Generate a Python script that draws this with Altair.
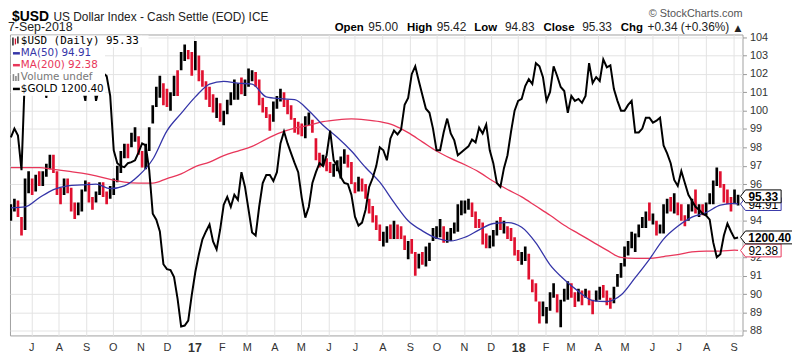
import altair as alt
import pandas as pd

# ---------------- data ----------------
# US Dollar index, one bar every 4 calendar days from 8-Jun-2016 to 6-Sep-2018
usd_high = [
    94.9, 95.2, 95.1, 94.2, 96.3, 96.7, 96.3, 96.5, 96.7, 96.7,
    97.1, 97.6, 97.6, 96.7, 95.8, 96.3, 96.3, 95.8, 95.0, 95.0,
    95.7, 96.2, 96.1, 95.3, 95.6, 96.1, 96.1, 95.6, 95.9, 96.3,
    97.0, 97.8, 98.2, 98.2, 98.8, 99.1, 98.6, 97.8, 98.2, 99.1,
    100.3, 101.3, 101.9, 101.5, 101.2, 101.0, 101.9, 102.2, 103.2, 103.6,
    103.3, 103.2, 103.8, 103.0, 102.2, 101.6, 101.3, 100.9, 100.7, 100.4,
    100.0, 100.6, 101.0, 101.7, 101.5, 101.8, 101.7, 102.3, 102.2, 102.1,
    101.7, 100.7, 100.2, 99.8, 100.5, 100.8, 101.2, 101.0, 100.6, 100.3,
    99.6, 99.4, 99.3, 99.7, 99.9, 99.5, 98.5, 97.7, 97.6, 97.4,
    97.2, 97.1, 97.3, 97.5, 97.9, 97.6, 97.2, 96.1, 96.4, 96.3,
    96.0, 95.2, 94.8, 94.3, 93.8, 93.4, 93.7, 93.8, 94.0, 93.8,
    93.7, 93.2, 92.9, 93.0, 92.3, 92.2, 92.3, 92.6, 92.8, 93.6,
    93.7, 94.1, 93.7, 93.4, 93.6, 93.9, 94.9, 95.1, 95.1, 95.2,
    95.0, 94.5, 94.1, 93.9, 93.3, 93.2, 93.5, 94.0, 94.2, 94.0,
    93.7, 93.6, 93.1, 92.4, 92.3, 92.6, 92.2, 90.8, 90.6, 89.6,
    89.6, 89.3, 90.1, 90.6, 90.0, 89.7, 90.3, 90.7, 90.6, 90.1,
    90.3, 90.2, 90.3, 90.2, 89.7, 90.2, 90.4, 90.5, 90.2, 89.8,
    90.4, 91.1, 91.7, 92.6, 92.9, 93.4, 93.3, 93.8, 94.2, 94.5,
    95.0, 94.4, 94.0, 93.8, 94.9, 95.2, 95.3, 95.5, 95.0, 94.9,
    94.3, 94.9, 95.2, 95.7, 94.9, 94.9, 95.0, 95.5, 96.2, 96.9,
    96.7, 96.0, 95.7, 95.3, 95.7, 95.42,
]
usd_low = [
    94.0, 94.5, 94.2, 93.2, 93.5, 95.5, 95.4, 95.6, 95.9, 95.9,
    96.4, 96.8, 96.6, 95.4, 94.9, 95.4, 95.5, 94.5, 94.1, 94.3,
    94.5, 95.6, 95.0, 94.6, 95.0, 95.4, 95.3, 94.9, 95.2, 95.4,
    96.1, 96.6, 97.4, 97.4, 98.0, 98.3, 97.6, 96.9, 96.8, 97.8,
    99.3, 100.2, 100.7, 100.3, 100.2, 100.0, 100.8, 100.8, 102.2, 102.7,
    102.8, 101.9, 102.2, 101.6, 101.3, 100.6, 100.2, 99.9, 99.6, 99.4,
    99.2, 99.8, 100.3, 100.6, 100.6, 100.9, 100.8, 101.3, 101.6, 101.3,
    100.3, 99.9, 99.6, 98.9, 99.4, 100.1, 100.5, 100.2, 99.8, 99.5,
    98.8, 98.7, 98.6, 98.5, 99.2, 98.8, 97.3, 96.9, 97.0, 96.7,
    96.6, 96.4, 96.7, 96.3, 97.1, 96.9, 96.0, 95.5, 95.6, 95.6,
    95.2, 94.4, 93.9, 93.5, 92.9, 92.6, 92.8, 93.0, 93.0, 93.0,
    93.0, 92.4, 91.9, 92.2, 91.0, 91.4, 91.6, 91.5, 91.8, 92.9,
    93.0, 93.1, 92.8, 92.8, 92.9, 93.3, 93.4, 94.3, 94.4, 94.6,
    94.2, 93.6, 93.6, 92.7, 92.5, 92.5, 92.6, 93.2, 93.5, 93.3,
    93.0, 92.9, 92.1, 91.8, 91.6, 91.8, 90.8, 90.1, 89.6, 88.4,
    88.8, 88.4, 89.1, 89.8, 89.0, 88.2, 89.6, 89.7, 89.8, 89.3,
    89.6, 89.4, 89.8, 89.4, 88.9, 89.6, 89.7, 89.8, 89.4, 89.2,
    89.5, 90.4, 90.9, 91.5, 92.1, 92.5, 92.3, 93.1, 93.6, 93.6,
    94.0, 93.8, 93.2, 93.3, 93.3, 94.4, 94.5, 94.4, 94.3, 94.0,
    93.7, 94.0, 94.5, 94.4, 94.2, 94.3, 94.3, 94.9, 94.9, 95.9,
    95.8, 95.0, 94.9, 94.5, 94.9, 94.83,
]
usd_close = [
    94.6, 95.0, 94.3, 93.6, 95.5, 96.1, 95.6, 96.3, 96.1, 96.6,
    97.0, 97.5, 96.7, 95.6, 95.5, 96.2, 95.7, 94.8, 94.5, 94.6,
    95.5, 95.9, 95.2, 95.0, 95.4, 96.0, 95.5, 95.3, 95.5, 96.2,
    96.6, 97.6, 98.0, 97.9, 98.6, 98.6, 98.0, 97.1, 97.9, 99.0,
    100.0, 101.2, 101.5, 100.9, 100.4, 100.6, 101.8, 101.2, 102.9, 103.2,
    103.0, 102.2, 103.3, 102.2, 101.6, 101.0, 100.8, 100.3, 100.5, 99.5,
    99.8, 100.3, 100.8, 101.0, 101.3, 101.1, 101.6, 101.6, 102.0, 101.3,
    100.5, 100.2, 99.8, 99.3, 100.4, 100.6, 101.0, 100.5, 99.9, 99.8,
    99.1, 99.0, 98.8, 99.4, 99.6, 98.9, 97.6, 97.1, 97.4, 96.9,
    96.7, 96.7, 96.9, 97.3, 97.7, 97.2, 96.2, 95.6, 96.2, 95.8,
    95.3, 94.6, 94.0, 93.8, 93.0, 93.0, 93.4, 93.1, 93.5, 93.3,
    93.2, 92.7, 92.7, 92.4, 91.3, 92.0, 91.8, 92.2, 92.6, 93.2,
    93.4, 93.8, 93.0, 93.1, 93.5, 93.7, 94.6, 94.6, 94.8, 94.9,
    94.4, 93.8, 93.6, 93.2, 92.9, 93.0, 93.3, 93.9, 93.6, 93.9,
    93.3, 93.2, 92.3, 91.9, 92.0, 92.3, 90.9, 90.4, 89.9, 89.1,
    89.2, 89.2, 89.6, 90.3, 89.1, 89.6, 89.9, 90.6, 89.9, 89.5,
    90.1, 89.6, 90.1, 89.8, 89.4, 90.0, 90.2, 90.1, 89.6, 89.5,
    90.3, 91.0, 91.5, 92.4, 92.6, 92.7, 93.2, 93.6, 93.9, 94.3,
    94.1, 94.2, 93.3, 93.6, 94.8, 94.8, 94.6, 95.0, 94.5, 94.1,
    93.9, 94.8, 95.1, 94.5, 94.7, 94.6, 95.0, 95.2, 96.1, 96.7,
    96.0, 95.2, 95.1, 94.7, 95.2, 95.33,
]
# $GOLD overlay, same dates
gold_close = [
    1282.5, 1289.8, 1284.1, 1255.7, 1337.0, 1354.9, 1358.1, 1354.9, 1346.7, 1332.9,
    1315.0, 1341.0, 1349.2, 1357.3, 1359.8, 1353.3, 1353.3, 1349.2, 1345.1, 1337.0,
    1327.2, 1312.6, 1343.5, 1338.6, 1312.6, 1324.8, 1335.4, 1332.9, 1316.7, 1272.0,
    1261.4, 1259.0, 1258.1, 1261.4, 1262.2, 1263.8, 1270.3, 1277.6, 1276.0, 1255.7,
    1219.9, 1215.0, 1205.3, 1178.4, 1174.4, 1173.6, 1167.9, 1150.0, 1127.2, 1128.0,
    1132.1, 1153.2, 1172.0, 1186.6, 1198.8, 1205.3, 1211.0, 1197.1, 1190.6, 1206.9,
    1227.2, 1233.7, 1225.6, 1235.4, 1231.3, 1254.0, 1241.9, 1223.2, 1204.5, 1202.0,
    1225.6, 1245.1, 1251.6, 1251.6, 1246.7, 1254.0, 1277.6, 1287.4, 1277.6, 1269.5,
    1261.4, 1254.0, 1232.9, 1216.7, 1225.6, 1245.1, 1254.0, 1261.4, 1259.0, 1267.9,
    1288.2, 1263.8, 1259.0, 1250.0, 1245.1, 1244.3, 1235.4, 1217.5, 1210.2, 1212.6,
    1223.2, 1241.9, 1249.2, 1259.0, 1274.4, 1272.0, 1263.8, 1281.7, 1288.2, 1285.0,
    1289.0, 1309.3, 1315.0, 1334.5, 1341.0, 1328.9, 1317.5, 1306.1, 1302.8, 1289.8,
    1272.0, 1272.0, 1286.6, 1298.0, 1285.8, 1280.1, 1267.9, 1270.3, 1272.8, 1275.2,
    1280.9, 1278.5, 1290.6, 1285.8, 1293.1, 1272.0, 1261.4, 1245.1, 1241.9, 1257.3,
    1267.9, 1287.4, 1304.5, 1312.6, 1314.2, 1324.8, 1330.5, 1326.4, 1343.5, 1341.0,
    1332.1, 1312.6, 1319.9, 1341.0, 1333.0, 1324.0, 1320.7, 1302.8, 1316.7, 1312.6,
    1314.2, 1311.0, 1316.7, 1343.5, 1327.2, 1332.1, 1328.9, 1346.7, 1340.2, 1341.8,
    1322.3, 1312.6, 1304.5, 1304.5, 1309.3, 1312.6, 1286.6, 1286.6, 1289.8, 1298.8,
    1298.8, 1294.7, 1296.3, 1298.8, 1276.0, 1269.5, 1261.4, 1247.6, 1242.7, 1254.9,
    1245.1, 1235.4, 1230.5, 1225.6, 1223.2, 1219.9, 1218.3, 1215.0, 1196.3, 1184.1,
    1186.6, 1202.0, 1211.8, 1205.3, 1199.6, 1200.4,
]
# moving averages, every 16 days plus the last day
ma50_values = [
    94.7, 94.75, 95.25, 95.7, 95.9, 95.95, 96.0, 95.75, 95.9, 96.45,
    97.35, 98.9, 99.85, 100.75, 101.45, 101.6, 101.5, 101.45, 100.75, 100.65,
    100.6, 100.0, 99.2, 98.55, 97.8, 96.9, 96.1, 95.0, 94.0, 93.45,
    93.05, 92.9, 93.1, 93.5, 93.85, 93.9, 93.65, 92.8, 91.6, 90.8,
    90.15, 89.65, 89.6, 89.95, 90.9, 91.9, 93.0, 93.7, 94.2, 94.45,
    94.85, 94.95, 94.91,
]
ma200_values = [
    96.9, 96.9, 96.9, 96.8, 96.7, 96.6, 96.45, 96.25, 96.1, 96.05,
    96.05, 96.3, 96.55, 96.95, 97.2, 97.55, 97.8, 98.05, 98.45, 98.8,
    99.05, 99.2, 99.4, 99.5, 99.55, 99.5, 99.4, 99.2, 98.8, 98.3,
    97.8, 97.4, 97.05, 96.65, 96.15, 95.7, 95.3, 94.8, 94.3, 93.75,
    93.3, 92.85, 92.4, 92.0, 91.95, 91.95, 92.05, 92.15, 92.3, 92.35,
    92.35, 92.4, 92.38,
]
y_ticks = list(range(88, 105))
header_values = {"Open": "95.00", "High": "95.42", "Low": "94.83", "Close": "95.33"}
change_text = "+0.34 (+0.36%)"

bar_dates = pd.date_range("2016-06-08", periods=len(usd_close), freq="4D")
ma_dates = list(bar_dates[::4]) + [bar_dates[-1]]
direction = ["up"] + ["up" if usd_close[i] >= usd_close[i - 1] else "down"
                      for i in range(1, len(usd_close))]

bars_df = pd.DataFrame({"date": bar_dates, "high": usd_high, "low": usd_low,
                        "close": usd_close, "dir": direction})
gold_df = pd.DataFrame({"date": bar_dates, "gold": gold_close})
ma_df = pd.DataFrame({"date": ma_dates, "ma50": ma50_values, "ma200": ma200_values})
ONE = pd.DataFrame({"k": [0]})

# ---------------- styling ----------------
W, H = 740, 304
BLACK = "#000000"
RED_BAR = "#e0102f"
BLUE = "#3535a8"
RED_MA = "#e8365a"
GRID = "#e3e3e3"
TXT = "#333333"
FONT = "Liberation Sans"
LFONT = "DejaVu Sans"

yscale = alt.Scale(domain=[87.75, 104.15], nice=False, zero=False)
gscale = alt.Scale(domain=[1119.9, 1367.1], nice=False, zero=False)
xscale = alt.Scale(domain=[alt.DateTime(year=2016, month=6, date=7),
                           alt.DateTime(year=2018, month=9, date=11)], nice=False)

xaxis = alt.Axis(
    title=None, tickCount={"interval": "month", "step": 1},
    labelExpr="month(datum.value) == 0 ? timeFormat(datum.value, '%y') : substring(timeFormat(datum.value, '%b'), 0, 1)",
    labelFontWeight={"condition": {"test": "month(datum.value) == 0", "value": "bold"}, "value": "normal"},
    labelFontSize={"condition": {"test": "month(datum.value) == 0", "value": 12.5}, "value": 11},
    grid=True, gridColor=GRID, ticks=False, tickSize=0, domain=False,
    labelPadding=6, labelColor=TXT, labelFont=FONT, labelOverlap=False, labelFlush=False,
)
yaxis = alt.Axis(
    title=None, orient="right", values=y_ticks, grid=True, gridColor=GRID,
    tickColor="#999999", tickSize=4, domain=False, labelFont=FONT, labelFontSize=11,
    labelColor=TXT, labelPadding=3,
)

X = alt.X("date:T", scale=xscale, axis=xaxis)

bars = alt.Chart(bars_df).mark_rule(strokeWidth=2.7, clip=True).encode(
    x=X,
    y=alt.Y("low:Q", scale=yscale, axis=yaxis),
    y2="high:Q",
    color=alt.Color("dir:N", scale=alt.Scale(domain=["up", "down"], range=[BLACK, RED_BAR]), legend=None),
)
ma200 = alt.Chart(ma_df).mark_line(color=RED_MA, strokeWidth=1.3, interpolate="monotone", clip=True).encode(
    x=X, y=alt.Y("ma200:Q", scale=yscale, axis=None))
ma50 = alt.Chart(ma_df).mark_line(color=BLUE, strokeWidth=1.3, interpolate="monotone", clip=True).encode(
    x=X, y=alt.Y("ma50:Q", scale=yscale, axis=None))
gold = alt.Chart(gold_df).mark_line(color=BLACK, strokeWidth=2, clip=True).encode(
    x=X, y=alt.Y("gold:Q", scale=gscale, axis=None))


def note(text, x, y, size=12, weight="normal", color=TXT, font=FONT, align="left", baseline="alphabetic"):
    return alt.Chart(ONE).mark_text(text=text, align=align, baseline=baseline, font=font,
                                    fontSize=size, fontWeight=weight, color=color).encode(
        x=alt.value(x), y=alt.value(y))


def seg(x1, x2, y1, y2, color, w=1.5):
    return alt.Chart(ONE).mark_rule(color=color, strokeWidth=w).encode(
        x=alt.value(x1), x2=alt.value(x2), y=alt.value(y1), y2=alt.value(y2))


def box(x1, x2, y1, y2):
    return alt.Chart(ONE).mark_rect(color="white").encode(
        x=alt.value(x1), x2=alt.value(x2), y=alt.value(y1), y2=alt.value(y2))


def tag_path(w, h=13, arrow=5):
    u = w / 2.0
    hy = (h / 2.0) / u
    ax = -1 + arrow / u
    return f"M-1,0L{ax:.3f},{-hy:.3f}L1,{-hy:.3f}L1,{hy:.3f}L{ax:.3f},{hy:.3f}Z"


def tag(value, scale, stroke, weight, w, cx):
    d = pd.DataFrame({"v": [value]})
    base = alt.Chart(d)
    shape = base.mark_point(shape=tag_path(w), size=w * w, filled=True, fill="white",
                            stroke=stroke, strokeWidth=1, opacity=1).encode(
        x=alt.value(cx), y=alt.Y("v:Q", scale=scale, axis=None))
    txt = base.mark_text(font=FONT, fontSize=12, fontWeight=weight, color=BLACK,
                         align="center", baseline="middle", dx=2.5, dy=0.5).encode(
        x=alt.value(cx), y=alt.Y("v:Q", scale=scale, axis=None),
        text=alt.Text("v:Q", format=".2f"))
    return [shape, txt]


# legend box and entries (top-left, inside the plot)
legend_layers = [
    box(1, 96, 1, 62), box(96, 140, 1, 13),
    seg(3, 3, 3, 11, BLACK, 1.3), seg(5.5, 5.5, 4, 10, RED_BAR, 1.3), seg(8, 8, 2, 9, BLACK, 1.3),
    note("$USD (Daily) " + f"{usd_close[-1]:.2f}", 11, 7, size=11, font="DejaVu Sans Mono",
         color=BLACK, baseline="middle"),
    seg(3, 10, 19, 19, BLUE, 2.5),
    note(f"MA(50) {ma50_values[-1]:.2f}", 11, 19, size=10.5, font=LFONT, color=BLUE, baseline="middle"),
    seg(3, 10, 31, 31, RED_MA, 2.5),
    note(f"MA(200) {ma200_values[-1]:.2f}", 11, 31, size=10.5, font=LFONT, color=RED_MA, baseline="middle"),
    seg(3.5, 3.5, 40, 47, "#888888", 1.6), seg(6, 6, 42, 47, "#888888", 1.6), seg(8.5, 8.5, 39, 47, "#888888", 1.6),
    note("Volume undef", 11, 43, size=10.5, font=LFONT, color="#777777", baseline="middle"),
    seg(3, 10, 55, 55, BLACK, 2.5),
    note(f"$GOLD {gold_close[-1]:.2f}", 11, 55, size=10.5, font=LFONT, color=BLACK, baseline="middle"),
]

# header text (above the plot)
header_layers = [
    note("$USD", 2, -14, size=14, weight="bold", color=BLACK),
    note("US Dollar Index - Cash Settle (EOD) ICE", 44, -14, size=12, color="#222222"),
    note("7-Sep-2018", -2, -4, size=12.5, color="#222222"),
    note("\u00a9 StockCharts.com", 740, -18, size=11, color="#555555", align="right"),
]
hx = {"Open": 328, "High": 401, "Low": 469, "Close": 539}
vx = {"Open": 362, "High": 431, "Low": 500, "Close": 578}
for k, v in header_values.items():
    header_layers.append(note(k, hx[k], -4, size=11.5, weight="bold", color=BLACK))
    header_layers.append(note(v, vx[k], -4, size=12, color="#222222"))
header_layers.append(note("Chg", 617, -4, size=11.5, weight="bold", color=BLACK))
header_layers.append(note(change_text, 644, -4, size=12, color="#222222"))
header_layers.append(note("\u25b2", 732, -4, size=9, color="#222222", font=LFONT))

tag_layers = (
    tag(ma50_values[-1], yscale, BLUE, "normal", 41, 758.5)
    + tag(usd_close[-1], yscale, BLACK, "bold", 41, 758.5)
    + tag(ma200_values[-1], yscale, RED_MA, "normal", 41, 758.5)
    + tag(gold_close[-1], gscale, BLACK, "bold", 54, 765)
)

chart = alt.layer(
    bars, ma200, ma50, gold, *legend_layers, *header_layers, *tag_layers
).resolve_scale(y="independent").properties(
    width=W, height=H,
    padding={"left": 2, "top": 25, "right": 50, "bottom": 18},
    autosize=alt.AutoSizeParams(type="none"),
).configure(background="white").configure_view(stroke="#a0a0a0", strokeWidth=1)

chart.save("out.html", embed_options={"renderer": "svg", "actions": False})
